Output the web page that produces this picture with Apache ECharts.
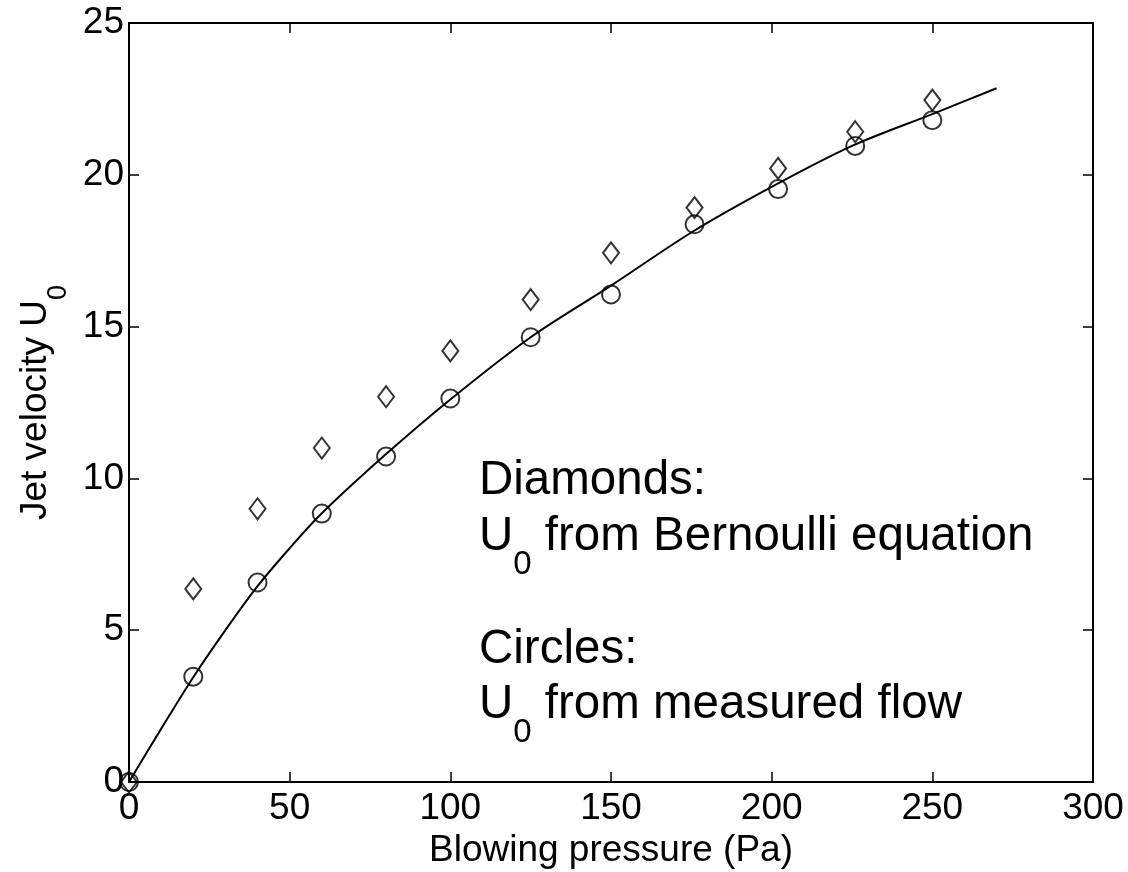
<!DOCTYPE html>
<html>
<head>
<meta charset="utf-8">
<title>Jet velocity vs blowing pressure</title>
<script src="https://cdn.jsdelivr.net/npm/echarts@6/dist/echarts.min.js"></script>
<style>
  html, body { margin: 0; padding: 0; background: #fff; }
  #chart { width: 1128px; height: 872px; }
</style>
</head>
<body>
<div id="chart"></div>
<script>
// Measured points: blowing pressure (Pa)
const pressure = [0, 20, 40, 60, 80, 100, 125, 150, 176, 202, 226, 250];
// U0 from measured flow (circles)
const velocityMeasured = [0, 3.47, 6.57, 8.84, 10.72, 12.63, 14.65, 16.06, 18.37, 19.53, 20.95, 21.80];
// U0 from Bernoulli equation (diamonds)
const velocityBernoulli = [0, 6.36, 9.00, 11.00, 12.69, 14.20, 15.89, 17.43, 18.92, 20.21, 21.42, 22.46];

// Fitted curve through the measured-flow points
const curvePressure = [0, 10, 20, 30, 40, 50, 60, 80, 100, 125, 150, 175, 200, 225, 250, 270];
const curveVelocity = [0, 1.75, 3.45, 5.0, 6.45, 7.7, 8.85, 10.8, 12.6, 14.65, 16.35, 18.1, 19.6, 20.95, 22.0, 22.85];

// Axis ticks
const xTicks = { min: 0, max: 300, step: 50 };
const yTicks = { min: 0, max: 25, step: 5 };

const FONT = "'Liberation Sans', Arial, Helvetica, sans-serif";

const pairs = (xs, ys) => xs.map((x, i) => [x, ys[i]]);

// Boxed frame: every side carries a line and inward ticks
const frameAxis = () => ({
  axisLine: { show: true, onZero: false, lineStyle: { color: '#000', width: 2 } },
  axisTick: { show: true, inside: true, length: 10, lineStyle: { color: '#000', width: 1.5 } },
  splitLine: { show: false }
});

// Text with a subscripted "0" after the U
const subRich = (size, subSize, lineHeight, drop) => ({
  m: { fill: '#000', color: '#000', fontSize: size, fontFamily: FONT, lineHeight: lineHeight },
  s: { fill: '#000', color: '#000', fontSize: subSize, fontFamily: FONT, lineHeight: subSize, padding: [drop, 0, 0, 0] }
});

const chart = echarts.init(document.getElementById('chart'), null, { renderer: 'canvas' });

chart.setOption({
  animation: false,
  backgroundColor: '#fff',
  grid: { left: 129, right: 35, top: 23, bottom: 90, containLabel: false, outerBoundsMode: 'none' },
  xAxis: [
    Object.assign(frameAxis(), {
      type: 'value', position: 'bottom',
      min: xTicks.min, max: xTicks.max, interval: xTicks.step,
      axisLabel: { color: '#000', fontSize: 37, fontFamily: FONT, margin: 8 },
      name: 'Blowing pressure (Pa)',
      nameLocation: 'middle', nameGap: 37,
      nameTextStyle: { color: '#000', fontSize: 37, fontFamily: FONT }
    }),
    Object.assign(frameAxis(), {
      type: 'value', position: 'top',
      min: xTicks.min, max: xTicks.max, interval: xTicks.step,
      axisLabel: { show: false }
    })
  ],
  yAxis: [
    Object.assign(frameAxis(), {
      type: 'value', position: 'left',
      min: yTicks.min, max: yTicks.max, interval: yTicks.step,
      axisLabel: { color: '#000', fontSize: 37, fontFamily: FONT, margin: 5 },
      name: '{m|Jet velocity U}{s|0}',
      nameLocation: 'middle', nameGap: 50,
      nameTextStyle: {
        color: '#000', fontSize: 37, fontFamily: FONT,
        rich: subRich(37, 27, 76, 46)
      }
    }),
    Object.assign(frameAxis(), {
      type: 'value', position: 'right',
      min: yTicks.min, max: yTicks.max, interval: yTicks.step,
      axisLabel: { show: false }
    })
  ],
  graphic: [
    { type: 'text', x: 479, y: 481, silent: true,
      style: { text: 'Diamonds:', fill: '#000', fontSize: 47.5, fontFamily: FONT, verticalAlign: 'middle', align: 'left' } },
    { type: 'text', x: 479, y: 537, silent: true,
      style: {
        text: '{m|U}{s|0}{m| from Bernoulli equation}', verticalAlign: 'middle', align: 'left',
        rich: subRich(47.5, 33, 100, 56)
      } },
    { type: 'text', x: 479, y: 650, silent: true,
      style: { text: 'Circles:', fill: '#000', fontSize: 47.5, fontFamily: FONT, verticalAlign: 'middle', align: 'left' } },
    { type: 'text', x: 479, y: 705, silent: true,
      style: {
        text: '{m|U}{s|0}{m| from measured flow}', verticalAlign: 'middle', align: 'left',
        rich: subRich(47.5, 33, 100, 56)
      } }
  ],
  series: [
    {
      name: 'fit', type: 'line', xAxisIndex: 0, yAxisIndex: 0,
      data: pairs(curvePressure, curveVelocity),
      smooth: 0.3, showSymbol: false, silent: true,
      lineStyle: { color: '#000', width: 2 }
    },
    {
      name: 'U0 from measured flow', type: 'scatter', xAxisIndex: 0, yAxisIndex: 0,
      data: pairs(pressure, velocityMeasured),
      symbol: 'circle', symbolSize: 18,
      itemStyle: { color: 'rgba(0,0,0,0)', borderColor: '#000', borderWidth: 2 }
    },
    {
      name: 'U0 from Bernoulli equation', type: 'scatter', xAxisIndex: 0, yAxisIndex: 0,
      data: pairs(pressure, velocityBernoulli),
      symbol: 'diamond', symbolSize: [16, 21],
      itemStyle: { color: 'rgba(0,0,0,0)', borderColor: '#000', borderWidth: 2 }
    }
  ]
});
</script>
</body>
</html>
